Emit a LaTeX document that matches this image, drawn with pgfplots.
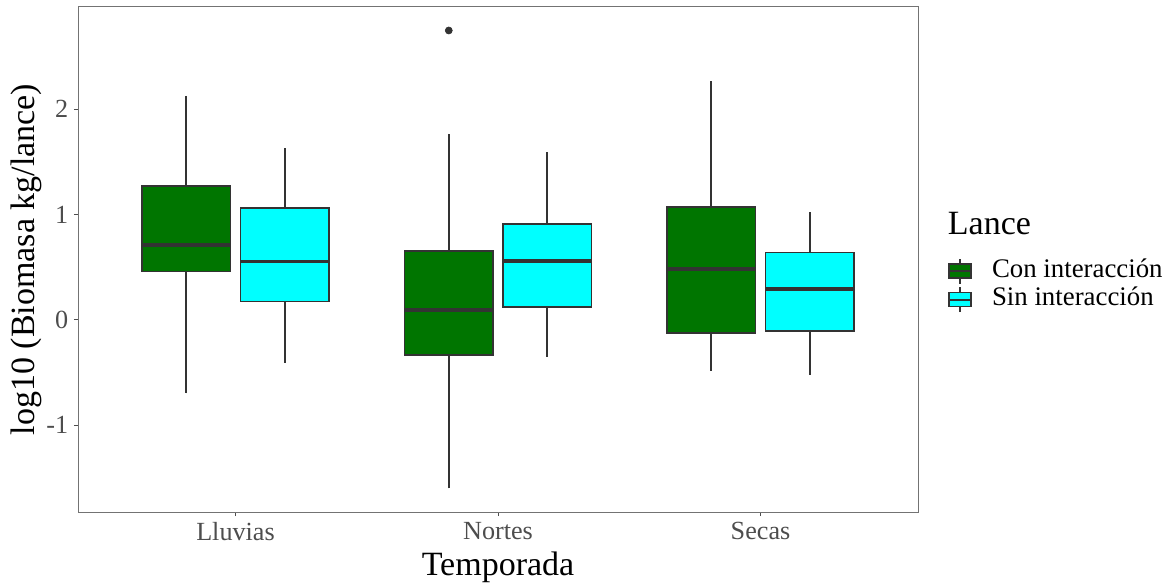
\documentclass[border=0pt]{standalone}
\usepackage{pgfplots}
\pgfplotsset{compat=1.18}
\usepgfplotslibrary{statistics}
\usepackage{fontspec}
\setmainfont{Liberation Serif}
\definecolor{cgreen}{HTML}{007500}
\definecolor{ccyan}{HTML}{00FFFF}
\definecolor{edge}{HTML}{333333}
\definecolor{tickc}{HTML}{4D4D4D}
\pgfplotsset{
  bxgreen/.style={legend image code/.code={
    \draw[edge, line width=1.0pt] (6.6pt,-7.5pt) -- (6.6pt,7.5pt);
    \draw[fill=cgreen, draw=edge, line width=1.0pt] (0pt,-4.2pt) rectangle (13.2pt,4.2pt);
    \draw[edge, line width=1.2pt] (0pt,0pt) -- (13.2pt,0pt);}},
  bxcyan/.style={legend image code/.code={
    \draw[edge, line width=1.0pt] (6.6pt,-7.5pt) -- (6.6pt,7.5pt);
    \draw[fill=ccyan, draw=edge, line width=1.0pt] (0pt,-4.2pt) rectangle (13.2pt,4.2pt);
    \draw[edge, line width=1.2pt] (0pt,0pt) -- (13.2pt,0pt);}},
  bstyle/.style={draw=edge, line width=1.05pt, fill=#1,
    boxplot/draw direction=y,
    boxplot/every median/.style={line width=2.1pt, draw=edge},
    boxplot/every whisker/.style={line width=1.1pt, draw=edge},
    boxplot/box extend=0.3375, boxplot/whisker extend=0, forget plot},
}
\begin{document}
\begin{tikzpicture}
\begin{axis}[
  name=ax,
  scale only axis, width=504pt, height=303pt,
  xmin=0.4, xmax=3.6, ymin=-1.823, ymax=2.970,
  xtick={1,2,3}, xticklabels={Lluvias,Nortes,Secas},
  ytick={-1,0,1,2}, yticklabels={-1,0,1,2},
  tick align=outside, major tick length=2.4pt,
  xtick pos=bottom, ytick pos=left,
  tick style={tickc, line width=0.6pt},
  axis line style={black!55, line width=0.6pt},
  ticklabel style={font=\fontsize{15.7}{18}\selectfont, text=tickc},
  xlabel={Temporada}, ylabel={log10 (Biomasa kg/lance)},
  label style={font=\fontsize{20.4}{24}\selectfont},
  ylabel style={xshift=0pt, yshift=-4pt},
  legend style={at={(1.0357,0.4487)}, anchor=west, draw=none, fill=none,
    inner sep=0pt, outer sep=0pt, row sep=0pt,
    font=\fontsize{16.1}{18}\selectfont,
    nodes={inner sep=1pt, text height=11pt, text depth=4pt},
    /tikz/every odd column/.append style={column sep=11pt}},
  legend cell align=left,
]
\addlegendimage{bxgreen}
\addlegendentry{Con interacción}
\addlegendimage{bxcyan}
\addlegendentry{Sin interacción}

% Lluvias
\addplot[bstyle=cgreen, boxplot prepared={draw position=0.8125,
  lower whisker=-0.696, lower quartile=0.459, median=0.712,
  upper quartile=1.273, upper whisker=2.127}] coordinates {};
\addplot[bstyle=ccyan, boxplot prepared={draw position=1.1875,
  lower whisker=-0.405, lower quartile=0.174, median=0.554,
  upper quartile=1.061, upper whisker=1.631}] coordinates {};
% Nortes
\addplot[bstyle=cgreen, boxplot prepared={draw position=1.8125,
  lower whisker=-1.598, lower quartile=-0.332, median=0.095,
  upper quartile=0.655, upper whisker=1.766}] coordinates {};
\addplot[bstyle=ccyan, boxplot prepared={draw position=2.1875,
  lower whisker=-0.349, lower quartile=0.123, median=0.560,
  upper quartile=0.909, upper whisker=1.593}] coordinates {};
% Secas
\addplot[bstyle=cgreen, boxplot prepared={draw position=2.8125,
  lower whisker=-0.481, lower quartile=-0.121, median=0.484,
  upper quartile=1.070, upper whisker=2.263}] coordinates {};
\addplot[bstyle=ccyan, boxplot prepared={draw position=3.1875,
  lower whisker=-0.522, lower quartile=-0.104, median=0.294,
  upper quartile=0.639, upper whisker=1.023}] coordinates {};
% outlier
\addplot[only marks, mark=*, mark size=2.1pt, color=edge, forget plot]
  coordinates {(1.8125,2.747)};
\end{axis}
\node[anchor=base west, font=\fontsize{20.4}{24}\selectfont]
  at ([xshift=14.4pt, yshift=14.7pt]ax.east) {Lance};
\pgfresetboundingbox
\path ([xshift=-46.8pt,yshift=-43.2pt]ax.south west) rectangle ([xshift=152.4pt,yshift=4.2pt]ax.north east);
\end{tikzpicture}
\end{document}
